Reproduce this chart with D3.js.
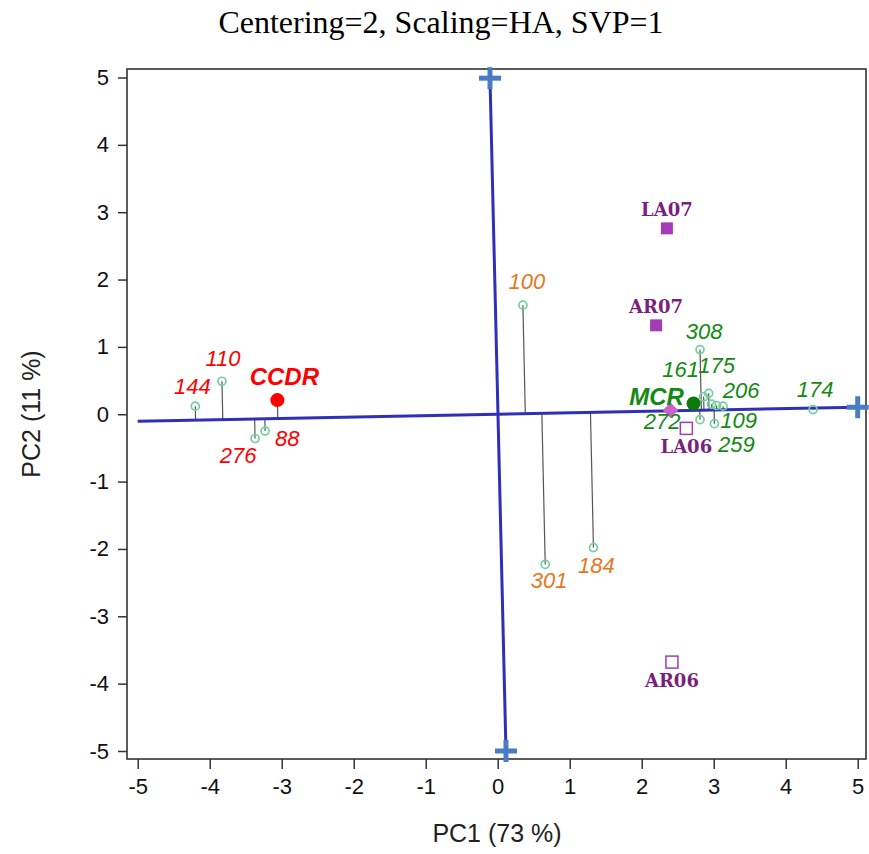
<!DOCTYPE html>
<html><head><meta charset="utf-8">
<script src="https://cdn.jsdelivr.net/npm/d3@7"></script>
<style>body{margin:0;background:#fff}svg{display:block}</style>
</head><body>
<script>
// ---- data ----
const title = "Centering=2, Scaling=HA, SVP=1";
const xTicks = [-5,-4,-3,-2,-1,0,1,2,3,4,5];
const yTicks = [-5,-4,-3,-2,-1,0,1,2,3,4,5];
// environments (circles)
const envNames = ["144","110","276","88","100","301","184","308","161","175","","109","206","272","259","174"];
const envPC1   = [-4.20,-3.83,-3.37,-3.23,0.35,0.66,1.33,2.81,2.86,2.93,2.97,3.04,3.13,2.81,3.01,4.38];
const envPC2   = [0.12,0.49,-0.36,-0.25,1.62,-2.23,-1.98,0.96,0.26,0.31,0.15,0.13,0.12,-0.08,-0.14,0.07];
const envGroup = ["r","r","r","r","o","o","o","g","g","g","g","g","g","g","g","g"];
// mega-environment centroids
const megaNames = ["CCDR","MCR"];
const megaPC1 = [-3.06,2.72];
const megaPC2 = [0.21,0.16];
const megaGroup = ["r","g"];
// genotypes (squares)
const genoNames = ["LA07","AR07","LA06","AR06"];
const genoPC1 = [2.35,2.20,2.62,2.42];
const genoPC2 = [2.76,1.32,-0.21,-3.68];
const genoFilled = [true,true,false,false];
// extra marker
const diamondPC1 = [2.40], diamondPC2 = [0.06];
// biplot axes
const axisH = [[-5,-0.104],[5,0.104]];
const axisV = [[-0.107,4.99],[0.115,-5.0]];

// ---- styles ----
const groupColor = {r:"#ff0000", o:"#e8761c", g:"#138a13"};
const labelOff = {"144":[-3,-12],"110":[1,-15],"276":[-17,25],"88":[22,15],"100":[4,-16],"301":[4,24],"184":[3,25],
  "308":[4,-11],"161":[-23,-20],"175":[8,-20],"109":[22,23],"206":[18,-8],"272":[-38,9],"259":[22,28],"174":[2,-13]};
const megaOff = {CCDR:[7,-15],MCR:[-37,2]};

const W=869,H=854;
const svg=d3.select("body").append("svg").attr("width",W).attr("height",H);
const x=d3.scaleLinear().domain([-5,5]).range([137.7,857.7]);
const y=d3.scaleLinear().domain([-5,5]).range([751,77.5]);
const L=127,R=866,T=69,B=759;

// title
svg.append("text").attr("x",441).attr("y",33).attr("text-anchor","middle")
  .attr("font-family","Liberation Serif, Times New Roman, serif").attr("font-size",32).attr("fill","#000").text(title);

// axes
const gx=svg.append("g").attr("transform",`translate(0,${B})`)
  .call(d3.axisBottom(x).tickValues(xTicks).tickSize(10).tickPadding(9).tickFormat(d3.format("d")));
const gy=svg.append("g").attr("transform",`translate(${L},0)`)
  .call(d3.axisLeft(y).tickValues(yTicks).tickSize(9).tickPadding(9).tickFormat(d3.format("d")));
[gx,gy].forEach(g=>{g.select(".domain").remove();
  g.selectAll("line").attr("stroke","#333").attr("stroke-width",1.5);
  g.selectAll("text").attr("font-family","Liberation Sans, Arial, sans-serif").attr("font-size",22).attr("fill","#111");});
gx.selectAll("text").text(d=>d<0?"-"+Math.abs(d):d);
gy.selectAll("text").text(d=>d<0?"-"+Math.abs(d):d);

svg.append("rect").attr("x",L).attr("y",T).attr("width",R-L).attr("height",B-T)
  .attr("fill","none").attr("stroke","#333").attr("stroke-width",1.6);

svg.append("text").attr("x",497).attr("y",842).attr("text-anchor","middle")
  .attr("font-family","Liberation Sans, Arial, sans-serif").attr("font-size",25).attr("fill","#222").text("PC1 (73 %)");
svg.append("text").attr("transform","translate(40,414) rotate(-90)").attr("text-anchor","middle")
  .attr("font-family","Liberation Sans, Arial, sans-serif").attr("font-size",25).attr("fill","#222").text("PC2 (11 %)");

// projection onto horizontal biplot axis
const ux=axisH[1][0]-axisH[0][0], uy=axisH[1][1]-axisH[0][1], un=Math.hypot(ux,uy);
const proj=(a,b)=>{const t=(a*ux+b*uy)/un/un;return [t*ux,t*uy];};

const envs=envNames.map((n,i)=>({n,x:envPC1[i],y:envPC2[i],g:envGroup[i]}));
const megas=megaNames.map((n,i)=>({n,x:megaPC1[i],y:megaPC2[i],g:megaGroup[i]}));

// stems
svg.append("g").selectAll("line").data(envs.concat(megas)).join("line")
  .attr("x1",d=>x(d.x)).attr("y1",d=>y(d.y))
  .attr("x2",d=>x(proj(d.x,d.y)[0])).attr("y2",d=>y(proj(d.x,d.y)[1]))
  .attr("stroke","#555").attr("stroke-width",1.2);

// blue biplot axes
const line=d3.line().x(d=>x(d[0])).y(d=>y(d[1]));
svg.append("path").attr("d",line(axisH)).attr("stroke","#2f2fb8").attr("stroke-width",3).attr("fill","none");
svg.append("path").attr("d",line(axisV)).attr("stroke","#2f2fb8").attr("stroke-width",3).attr("fill","none");
const plusPts=[axisH[1],axisV[0],axisV[1]];
const pg=svg.append("g");
plusPts.forEach(p=>{
  pg.append("line").attr("x1",x(p[0])-11).attr("x2",x(p[0])+11).attr("y1",y(p[1])).attr("y2",y(p[1])).attr("stroke","#4a7cc4").attr("stroke-width",5);
  pg.append("line").attr("x1",x(p[0])).attr("x2",x(p[0])).attr("y1",y(p[1])-11).attr("y2",y(p[1])+11).attr("stroke","#4a7cc4").attr("stroke-width",5);
});

// diamond
svg.append("g").selectAll("path").data(diamondPC1.map((d,i)=>[d,diamondPC2[i]])).join("path")
  .attr("d",d3.symbol(d3.symbolSquare,120)())
  .attr("transform",d=>`translate(${x(d[0])},${y(d[1])}) rotate(45)`).attr("fill","#c862c8");

// env circles
svg.append("g").selectAll("circle").data(envs).join("circle")
  .attr("cx",d=>x(d.x)).attr("cy",d=>y(d.y)).attr("r",4)
  .attr("fill","none").attr("stroke","#72cf9c").attr("stroke-width",1.7);

// mega centroids
svg.append("g").selectAll("circle").data(megas).join("circle")
  .attr("cx",d=>x(d.x)).attr("cy",d=>y(d.y)).attr("r",7)
  .attr("fill",d=>d.g==="r"?"#ff0000":"#0c7a0c");
svg.append("g").selectAll("text").data(megas).join("text")
  .attr("x",d=>x(d.x)+megaOff[d.n][0]).attr("y",d=>y(d.y)+megaOff[d.n][1])
  .attr("text-anchor","middle").attr("font-family","Liberation Sans, Arial, sans-serif")
  .attr("font-size",24).attr("font-weight","bold").attr("font-style","italic")
  .attr("fill",d=>groupColor[d.g]).text(d=>d.n);

// env labels
svg.append("g").selectAll("text").data(envs.filter(d=>d.n)).join("text")
  .attr("x",d=>x(d.x)+labelOff[d.n][0]).attr("y",d=>y(d.y)+labelOff[d.n][1])
  .attr("text-anchor","middle").attr("font-family","Liberation Sans, Arial, sans-serif")
  .attr("font-size",22).attr("font-style","italic")
  .attr("fill",d=>groupColor[d.g]).text(d=>d.n);

// genotypes
const genos=genoNames.map((n,i)=>({n,x:genoPC1[i],y:genoPC2[i],f:genoFilled[i]}));
svg.append("g").selectAll("rect").data(genos).join("rect")
  .attr("x",d=>x(d.x)-6).attr("y",d=>y(d.y)-6).attr("width",12).attr("height",12)
  .attr("fill",d=>d.f?"#a33cb5":"#fff").attr("stroke","#a33cb5").attr("stroke-width",d=>d.f?0:1.5);
svg.append("g").selectAll("text").data(genos).join("text")
  .attr("x",d=>x(d.x)).attr("y",d=>y(d.y)+(d.f?-12:25))
  .attr("text-anchor","middle").attr("font-family","DejaVu Serif, serif").attr("font-weight","bold")
  .attr("font-size",18).attr("fill","#7a1f7e").text(d=>d.n);
</script>
</body></html>
